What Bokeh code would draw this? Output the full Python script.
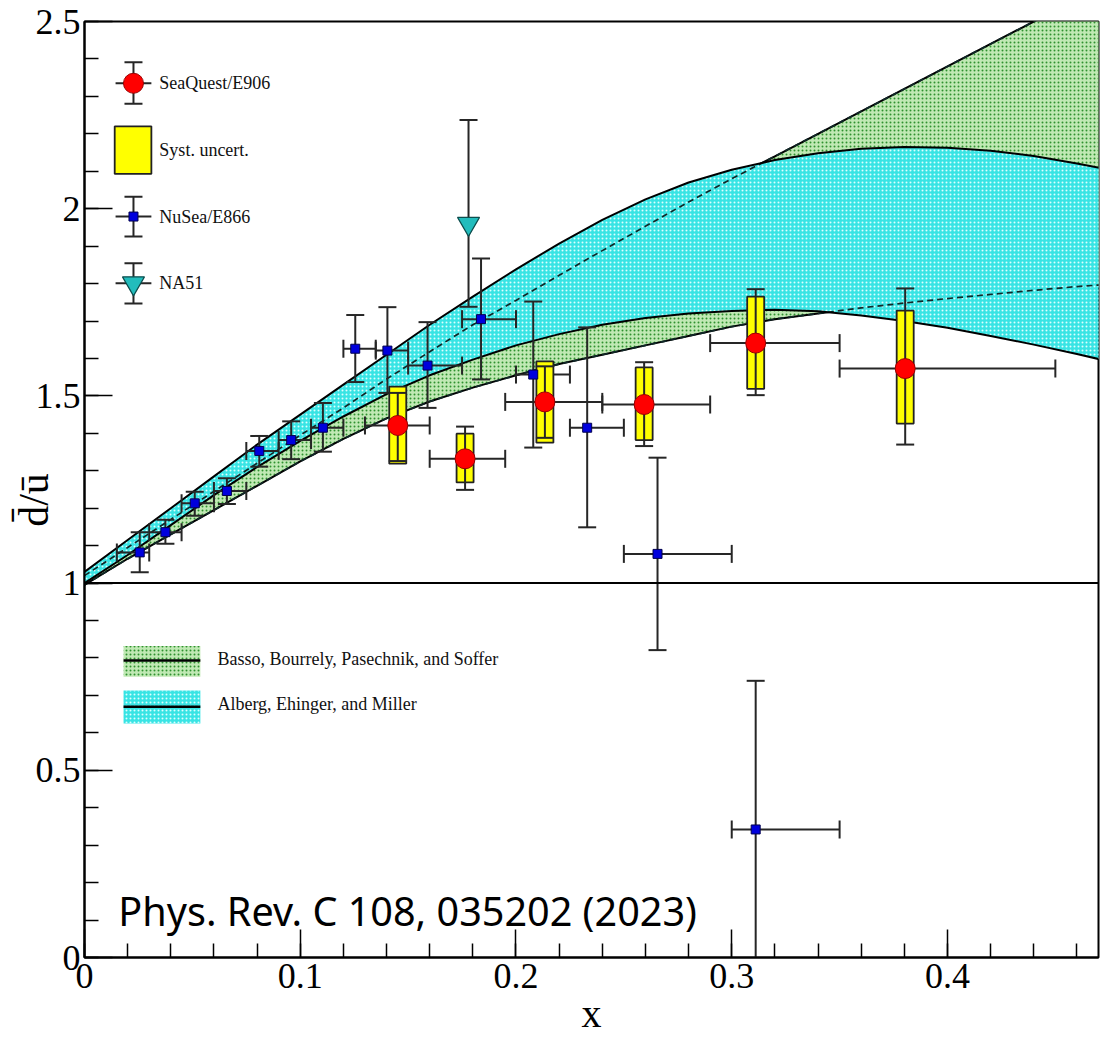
import math
from bokeh.plotting import figure
from bokeh.models import (SingleIntervalTicker, CustomJSTickFormatter, Span, ColumnDataSource)
from bokeh.core.properties import value
from bokeh.embed import file_html
from bokeh.resources import INLINE

# ---------------- data ----------------
# SeaQuest / E906
sq_x = [0.1452, 0.1764, 0.2134, 0.2594, 0.3111, 0.3804]
sq_y = [1.421, 1.332, 1.484, 1.477, 1.641, 1.573]
sq_xlo = [0.130, 0.160, 0.195, 0.240, 0.290, 0.350]
sq_xhi = [0.160, 0.195, 0.240, 0.290, 0.350, 0.450]
sq_stat_lo = [1.326, 1.249, 1.388, 1.366, 1.502, 1.370]
sq_stat_hi = [1.508, 1.418, 1.579, 1.590, 1.785, 1.787]
sq_sys_lo = [1.319, 1.269, 1.375, 1.382, 1.519, 1.426]
sq_sys_hi = [1.525, 1.399, 1.592, 1.576, 1.765, 1.728]

# NuSea / E866
nu_x = [0.0256, 0.0375, 0.0511, 0.0660, 0.0810, 0.0958, 0.1105, 0.1255,
        0.1404, 0.1590, 0.1838, 0.2080, 0.2330, 0.2656, 0.3111]
nu_y = [1.082, 1.136, 1.213, 1.246, 1.353, 1.382, 1.415, 1.626,
        1.621, 1.581, 1.705, 1.557, 1.415, 1.078, 0.342]
nu_xlo = [0.015, 0.030, 0.045, 0.060, 0.075, 0.090, 0.105, 0.120,
          0.135, 0.150, 0.175, 0.200, 0.225, 0.250, 0.300]
nu_xhi = [0.030, 0.045, 0.060, 0.075, 0.090, 0.105, 0.120, 0.135,
          0.150, 0.175, 0.200, 0.225, 0.250, 0.300, 0.350]
nu_ylo = [1.029, 1.105, 1.180, 1.211, 1.311, 1.331, 1.351, 1.537,
          1.508, 1.468, 1.544, 1.362, 1.149, 0.821, -0.055]
nu_yhi = [1.136, 1.169, 1.244, 1.280, 1.393, 1.432, 1.481, 1.716,
          1.737, 1.697, 1.867, 1.752, 1.683, 1.335, 0.739]

# NA51
na_x = [0.178]
na_y = [1.960]
na_ylo = [1.738]
na_yhi = [2.237]

# Model bands
band_x = [0.00, 0.02, 0.04, 0.06, 0.08, 0.10, 0.12, 0.14, 0.16, 0.18, 0.20, 0.22,
          0.24, 0.26, 0.28, 0.30, 0.32, 0.34, 0.36, 0.38, 0.40, 0.42, 0.44, 0.46, 0.48]
# Basso, Bourrely, Pasechnik, Soffer (green)
bbps_lo = [0.995, 1.065, 1.130, 1.195, 1.260, 1.325, 1.385, 1.440, 1.485, 1.522, 1.555, 1.585,
           1.610, 1.635, 1.660, 1.685, 1.705, 1.720, 1.735, 1.748, 1.760, 1.771, 1.782, 1.792, 1.800]
bbps_hi = [1.020, 1.095, 1.170, 1.245, 1.320, 1.395, 1.468, 1.545, 1.618, 1.690, 1.755, 1.822,
           1.888, 1.953, 2.018, 2.080, 2.140, 2.200, 2.260, 2.320, 2.380, 2.440, 2.500, 2.560, 2.620]
# Alberg, Ehinger, Miller (cyan)
aem_lo = [1.000, 1.075, 1.155, 1.235, 1.310, 1.380, 1.445, 1.505, 1.555, 1.597, 1.635, 1.665,
          1.690, 1.708, 1.720, 1.727, 1.730, 1.726, 1.715, 1.700, 1.682, 1.660, 1.637, 1.612, 1.585]
aem_hi = [1.030, 1.115, 1.200, 1.285, 1.370, 1.450, 1.530, 1.610, 1.690, 1.765, 1.838, 1.907,
          1.970, 2.025, 2.070, 2.104, 2.130, 2.148, 2.160, 2.165, 2.163, 2.155, 2.141, 2.121, 2.098]

# texts
legend_labels = ["SeaQuest/E906", "Syst. uncert.", "NuSea/E866", "NA51"]
band_labels = ["Basso, Bourrely, Pasechnik, and Soffer", "Alberg, Ehinger, and Miller"]
citation = "Phys. Rev. C 108, 035202 (2023)"
x_title = "x"
y_title = "d\u0304/\u016b\u2002"

# ---------------- figure ----------------
SERIF = "Liberation Serif"
BAR = "#262626"
GREEN_BG, GREEN_DOT = "#c0e9b4", "#2f922f"
CYAN_BG, CYAN_DOT = "#38e4e4", "#dcffff"

p = figure(width=1110, height=1040, x_range=(0, 0.47), y_range=(0, 2.5),
           output_backend="svg", toolbar_location=None,
           min_border_left=84, min_border_right=12, min_border_top=21, min_border_bottom=83,
           background_fill_color="white", border_fill_color="white")
p.grid.visible = False
p.outline_line_color = "black"
p.outline_line_width = 2

p.xaxis.ticker = SingleIntervalTicker(interval=0.1, num_minor_ticks=5)
p.yaxis.ticker = SingleIntervalTicker(interval=0.5, num_minor_ticks=5)
for ax in (p.xaxis[0], p.yaxis[0]):
    ax.axis_line_width = 2
    ax.axis_line_color = "black"
    ax.major_tick_in = 28
    ax.major_tick_out = 0
    ax.minor_tick_in = 14
    ax.minor_tick_out = 0
    ax.major_tick_line_width = 1.5
    ax.minor_tick_line_width = 1.5
    ax.major_tick_line_color = "black"
    ax.minor_tick_line_color = "black"
    ax.major_label_text_font = SERIF
    ax.major_label_text_font_size = "36px"
    ax.major_label_text_color = "black"
    ax.axis_label_text_font = SERIF
    ax.axis_label_text_font_style = "normal"
    ax.axis_label_text_color = "black"
    ax.formatter = CustomJSTickFormatter(code="return String(Math.round(tick*100)/100);")
p.yaxis[0].major_label_standoff = 4
p.xaxis[0].major_label_standoff = 6
p.xaxis[0].axis_label = x_title
p.xaxis[0].axis_label_text_font_size = "40px"
p.xaxis[0].axis_label_standoff = 0
p.yaxis[0].axis_label = y_title
p.yaxis[0].axis_label_text_font_size = "42px"
p.yaxis[0].axis_label_standoff = -24

# ---------------- bands ----------------
band = ColumnDataSource(dict(x=band_x, bl=bbps_lo, bh=bbps_hi, al=aem_lo, ah=aem_hi))
p.varea(x="x", y1="bl", y2="bh", source=band, fill_color=GREEN_BG,
        hatch_pattern="dot", hatch_color=GREEN_DOT, hatch_scale=4, hatch_weight=1.2)
p.line("x", "bl", source=band, line_color="black", line_width=2)
p.line("x", "bh", source=band, line_color="black", line_width=2)
p.varea(x="x", y1="al", y2="ah", source=band, fill_color=CYAN_BG,
        hatch_pattern="dot", hatch_color=CYAN_DOT, hatch_scale=4, hatch_weight=1.2)
p.line("x", "bl", source=band, line_color="#102828", line_width=1.7, line_dash="6 4")
p.line("x", "bh", source=band, line_color="#102828", line_width=1.7, line_dash="6 4")
p.line("x", "al", source=band, line_color="black", line_width=2)
p.line("x", "ah", source=band, line_color="black", line_width=2)

p.add_layout(Span(location=1.0, dimension="width", line_color="black", line_width=2))


def error_cross(src, xk, yk, xlo, xhi, ylo, yhi, cap=18):
    p.segment(x0=xk, y0=ylo, x1=xk, y1=yhi, source=src, line_color=BAR, line_width=2)
    p.scatter(x=xk, y=ylo, source=src, marker="dash", size=cap, line_color=BAR, line_width=2)
    p.scatter(x=xk, y=yhi, source=src, marker="dash", size=cap, line_color=BAR, line_width=2)
    if xlo is not None:
        p.segment(x0=xlo, y0=yk, x1=xhi, y1=yk, source=src, line_color=BAR, line_width=2)
        p.scatter(x=xlo, y=yk, source=src, marker="dash", angle=math.pi / 2, size=cap,
                  line_color=BAR, line_width=2)
        p.scatter(x=xhi, y=yk, source=src, marker="dash", angle=math.pi / 2, size=cap,
                  line_color=BAR, line_width=2)


# ---------------- data ----------------
nu = ColumnDataSource(dict(x=nu_x, y=nu_y, xlo=nu_xlo, xhi=nu_xhi, ylo=nu_ylo, yhi=nu_yhi))
error_cross(nu, "x", "y", "xlo", "xhi", "ylo", "yhi")

na = ColumnDataSource(dict(x=na_x, y=na_y, ylo=na_ylo, yhi=na_yhi))
error_cross(na, "x", "y", None, None, "ylo", "yhi")

sq = ColumnDataSource(dict(
    x=sq_x, y=sq_y, xlo=sq_xlo, xhi=sq_xhi, slo=sq_stat_lo, shi=sq_stat_hi,
    ymid=[(a + b) / 2 for a, b in zip(sq_sys_lo, sq_sys_hi)],
    h=[b - a for a, b in zip(sq_sys_lo, sq_sys_hi)]))
p.rect(x="x", y="ymid", width=17, height="h", width_units="screen", source=sq,
       fill_color="#ffff00", line_color="#222222", line_width=1.8)
error_cross(sq, "x", "y", "xlo", "xhi", "slo", "shi")
p.scatter(x="x", y="y", source=sq, marker="circle", size=20, fill_color="#ff0000",
          line_color="#9a0000", line_width=1)
p.scatter(x="x", y="y", source=nu, marker="square", size=9, fill_color="#0000dd",
          line_color="#000050", line_width=1)
p.scatter(x="x", y="y", source=na, marker="inverted_triangle", size=22, fill_color="#22bcbc",
          line_color="#0d4d4d", line_width=1.2)

# ---------------- legends (layout positions) ----------------
LX, LXL, LXH = 0.0227, 0.0144, 0.0310
leg_sq = ColumnDataSource(dict(x=[LX], y=[2.335], ylo=[2.280], yhi=[2.391]))
error_cross(leg_sq, "x", "y", None, None, "ylo", "yhi")
p.segment(x0=[LXL], y0=[2.335], x1=[LXH], y1=[2.335], line_color=BAR, line_width=2)
p.scatter(x=[LX], y=[2.335], marker="circle", size=20, fill_color="#ff0000",
          line_color="#9a0000", line_width=1)
p.quad(left=[0.0140], right=[0.0310], bottom=[2.093], top=[2.220], fill_color="#ffff00",
       line_color="#222222", line_width=1.8)
leg_nu = ColumnDataSource(dict(x=[LX], y=[1.979], ylo=[1.926], yhi=[2.032]))
error_cross(leg_nu, "x", "y", None, None, "ylo", "yhi")
p.segment(x0=[LXL], y0=[1.979], x1=[LXH], y1=[1.979], line_color=BAR, line_width=2)
p.scatter(x=[LX], y=[1.979], marker="square", size=9, fill_color="#0000dd",
          line_color="#000050", line_width=1)
leg_na = ColumnDataSource(dict(x=[LX], y=[1.801], ylo=[1.747], yhi=[1.854]))
error_cross(leg_na, "x", "y", None, None, "ylo", "yhi")
p.segment(x0=[LXL], y0=[1.801], x1=[LXH], y1=[1.801], line_color=BAR, line_width=2)
p.scatter(x=[LX], y=[1.801], marker="inverted_triangle", size=22, fill_color="#22bcbc",
          line_color="#0d4d4d", line_width=1.2)
p.text(x=[0.0347] * 4, y=[2.335, 2.157, 1.979, 1.801], text=legend_labels,
       text_font=value(SERIF), text_font_size=value("18px"), text_baseline="middle",
       text_color="#111111")

# band legend
p.quad(left=[0.0181], right=[0.0537], bottom=[0.750], top=[0.832], fill_color=GREEN_BG,
       hatch_pattern="dot", hatch_color=GREEN_DOT, hatch_scale=4, hatch_weight=1.2,
       line_color=None)
p.segment(x0=[0.0181], y0=[0.793], x1=[0.0537], y1=[0.793], line_color="black", line_width=2.5)
p.quad(left=[0.0181], right=[0.0537], bottom=[0.625], top=[0.713], fill_color=CYAN_BG,
       hatch_pattern="dot", hatch_color=CYAN_DOT, hatch_scale=4, hatch_weight=1.2,
       line_color=None)
p.segment(x0=[0.0181], y0=[0.670], x1=[0.0537], y1=[0.670], line_color="black", line_width=2.5)
p.text(x=[0.0616] * 2, y=[0.797, 0.678], text=band_labels,
       text_font=value(SERIF), text_font_size=value("18px"), text_baseline="middle",
       text_color="#111111")

# citation
p.text(x=[0.0157], y=[0.125], text=[citation], text_font=value("Noto Sans"),
       text_font_size=value("39.6px"), text_baseline="middle", text_color="black")

open("out.html", "w").write(file_html(p, INLINE))
